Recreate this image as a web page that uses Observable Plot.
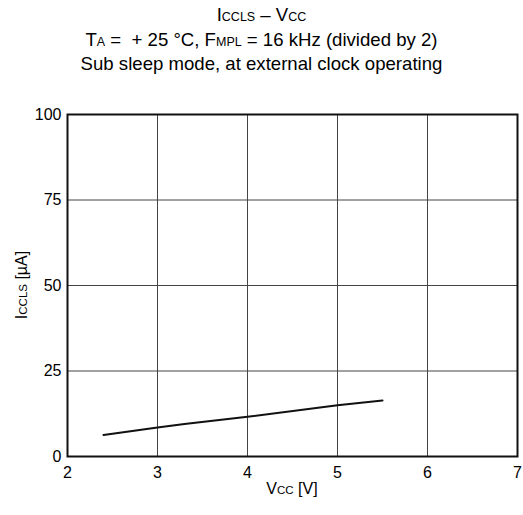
<!DOCTYPE html>
<html><head><meta charset="utf-8">
<script src="https://cdn.jsdelivr.net/npm/d3@7"></script>
<script src="https://cdn.jsdelivr.net/npm/@observablehq/plot@0.6"></script>
<style>
body{margin:0;background:#fff;font-family:"Liberation Sans",Arial,sans-serif;}
#title{height:90px;text-align:center;font-size:18.6px;color:#000;padding-top:3px;box-sizing:border-box;}
#title div{height:24.5px;line-height:24px;white-space:nowrap;}
.s{font-size:12.5px;line-height:0;}
</style></head><body>
<div id="title">
<div>I<span class="s">CCLS</span> – V<span class="s">CC</span></div>
<div>T<span class="s">A</span> = &nbsp;+ 25 °C, F<span class="s">MPL</span> = 16 kHz (divided by 2)</div>
<div>Sub sleep mode, at external clock operating</div>
</div>
<div id="chart"></div>
<script>
const vcc = [2.4, 3.0, 3.3, 4.0, 5.0, 5.5];
const iccls = [6.3, 8.5, 9.5, 11.6, 15.0, 16.4];
const xTicks = [2, 3, 4, 5, 6, 7];
const yTicks = [0, 25, 50, 75, 100];
const data = vcc.map((v, i) => ({v, i: iccls[i]}));

const chart = Plot.plot({
  width: 523, height: 422,
  marginLeft: 67, marginRight: 6, marginTop: 24, marginBottom: 56,
  style: {fontFamily: '"Liberation Sans", Arial, sans-serif', fontSize: "16px", color: "#000", background: "#fff", overflow: "visible"},
  x: {domain: [2, 7], ticks: xTicks, tickFormat: "d", tickSize: 0, tickPadding: 10, label: null},
  y: {domain: [0, 100], ticks: yTicks, tickFormat: "d", tickSize: 0, tickPadding: 6, label: null},
  marks: [
    Plot.gridX(xTicks.slice(1, -1), {stroke: "#444", strokeOpacity: 1, strokeWidth: 1}),
    Plot.gridY(yTicks.slice(1, -1), {stroke: "#444", strokeOpacity: 1, strokeWidth: 1}),
    Plot.frame({stroke: "#111", strokeWidth: 2}),
    Plot.line(data, {x: "v", y: "i", stroke: "#111", strokeWidth: 2})
  ]
});
document.getElementById("chart").appendChild(chart);
const svg = d3.select(chart);
const xl = svg.append("text").attr("x", 67 + 450/2).attr("y", 404).attr("text-anchor", "middle")
  .attr("font-size", 16).attr("fill", "#000");
xl.append("tspan").text("V");
xl.append("tspan").attr("font-size", 11.5).text("CC");
xl.append("tspan").text(" [V]");
const yl = svg.append("text").attr("transform", `translate(27,${24 + 171}) rotate(-90)`)
  .attr("text-anchor", "middle").attr("font-size", 16).attr("fill", "#000");
yl.append("tspan").text("I");
yl.append("tspan").attr("font-size", 11.5).text("CCLS");
yl.append("tspan").text(" [µA]");
</script>
</body></html>
